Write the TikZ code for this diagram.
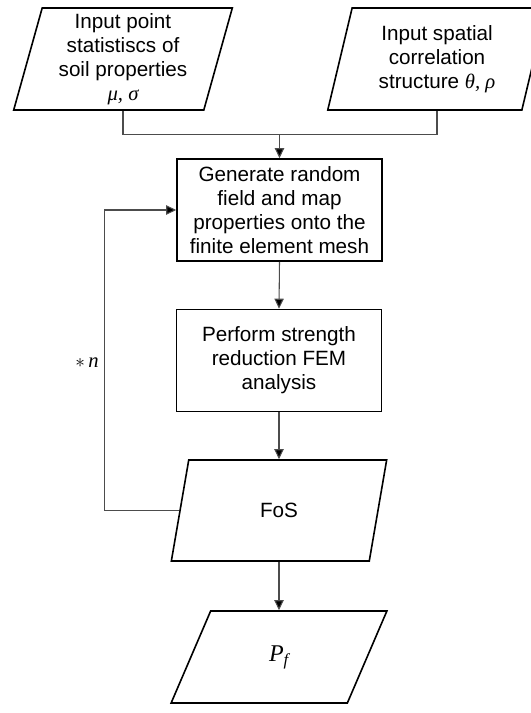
\documentclass[tikz,border=0pt]{standalone}
\usepackage{fontspec}
\setmainfont{Liberation Sans}
\newfontfamily\tms{Liberation Serif}
\usetikzlibrary{shapes.geometric,arrows.meta}

\begin{document}
\begin{tikzpicture}[
   x=0.75pt,y=-0.75pt,
   font=\fontsize{15.5}{17.9}\selectfont,
   proc/.style={draw,line width=1.2pt,align=center,inner sep=0pt,minimum width=153.75pt,minimum height=76.5pt},
   io/.style={draw,line width=1.2pt,align=center,inner sep=0pt,trapezium,trapezium left angle=76,trapezium right angle=104,trapezium stretches=true,minimum width=164pt,minimum height=76.5pt},
   line/.style={line width=0.8pt,draw=black!70},
   to/.style={line,-{Triangle[length=7.5pt,width=7pt,fill=black]}}]
\useasboundingbox (0,0) rectangle (531,713);
\clip (0,0) rectangle (531,713);
\node[io] (stats) at (123,59) {Input point\\statistiscs of\\soil properties\\{\tms\itshape μ, σ}};
\node[io] (corr) at (437,59) {Input spatial\\correlation\\structure {\tms\itshape θ, ρ}};
\node[proc] (gen) at (279.5,210) {Generate random\\field and map\\properties onto the\\finite element mesh};
\node[proc] (fem) at (279,360.5) {Perform strength\\reduction FEM\\analysis};
\node[io,minimum width=162pt,minimum height=75.75pt] (fos) at (279,510.5) {FoS};
\node[io,minimum width=162pt,minimum height=69pt] (pf) at (279,657) {\fontsize{18}{20}\tms\itshape P\textsubscript{f}};
\node (rep) at (87,363) {$*$\,{\tms\itshape n}};
\draw[line] (stats.south -| stats.center) -- ++(0,24) -| (corr.south -| corr.center);
\draw[to]  (stats.south -| gen.north) ++(0,24) -- (gen.north);
\draw[to]  (gen.south) -- (fem.north);
\draw[to]  (fem.south) -- (fos.north -| fem.south);
\draw[to]  (fos.south -| fos.center) -- (pf.north -| fos.center);
\draw[to]  (fos.west) -- ++(-75,0) |- (gen.west);
\end{tikzpicture}
\end{document}
